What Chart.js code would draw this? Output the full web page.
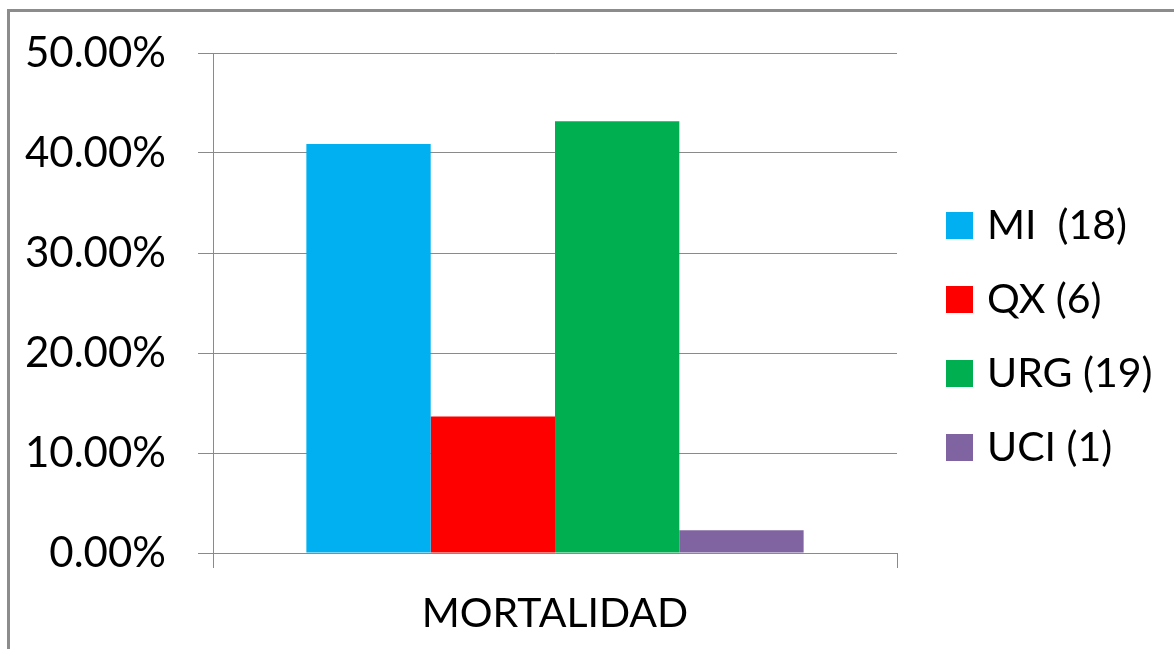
<!DOCTYPE html>
<html>
<head>
    <title>Mortalidad</title>
    <script src="https://cdn.jsdelivr.net/npm/chart.js"></script>
    <style>
        body { margin: 0; background: #fff; overflow: hidden; }
        #frame {
            position: absolute; left: 7px; top: 9px; width: 1300px; height: 800px;
            border-top: 3px solid #8c8c8c; border-left: 3px solid #8c8c8c;
        }
        #box { position: absolute; left: 0; top: 0; width: 1174px; height: 649px; }
    </style>
</head>
<body>
    <div id="frame"></div>
    <div id="box"><canvas id="plot"></canvas></div>

    <script>
        // Mortality share by service (count in the label)
        const categories = ['MORTALIDAD'];
        const seriesNames = ['MI  (18)', 'QX (6)', 'URG (19)', 'UCI (1)'];
        const seriesValues = [40.91, 13.64, 43.18, 2.27];
        const seriesColors = ['#00B0F0', '#FF0000', '#00B050', '#8064A2'];
        const yTicks = [0, 10, 20, 30, 40, 50];

        const gridColor = '#8a8a8a';
        const fontFamily = 'Lato, "Noto Sans", sans-serif';

        // Legend drawn to the right of the plot, one square per series
        const sideLegend = {
            id: 'sideLegend',
            afterDraw(chart) {
                const ctx = chart.ctx;
                ctx.save();
                ctx.font = '41px ' + fontFamily;
                ctx.textBaseline = 'middle';
                ctx.textAlign = 'left';
                chart.data.datasets.forEach((ds, i) => {
                    const cy = 225 + i * 74;
                    ctx.fillStyle = ds.backgroundColor;
                    ctx.fillRect(946, cy - 13, 27, 27);
                    ctx.fillStyle = '#000';
                    ctx.fillText(ds.label, 987, cy + 1);
                });
                ctx.restore();
            }
        };

        const ctx = document.getElementById('plot').getContext('2d');
        const chart = new Chart(ctx, {
            type: 'bar',
            data: {
                labels: categories,
                datasets: seriesNames.map((name, i) => ({
                    label: name,
                    data: [seriesValues[i]],
                    backgroundColor: seriesColors[i],
                    borderWidth: 0,
                    categoryPercentage: 0.727,
                    barPercentage: 1
                }))
            },
            options: {
                responsive: true,
                maintainAspectRatio: false,
                animation: false,
                layout: { padding: { top: 53, right: 277, left: 0, bottom: 0 } },
                plugins: {
                    legend: { display: false },
                    tooltip: { enabled: false }
                },
                scales: {
                    x: {
                        grid: {
                            drawOnChartArea: false,
                            drawTicks: true,
                            tickLength: 15,
                            color: gridColor
                        },
                        border: { display: true, color: gridColor },
                        ticks: {
                            color: '#000',
                            padding: 21,
                            font: { family: fontFamily, size: 41 }
                        },
                        afterFit(scale) { scale.height = 96; }
                    },
                    y: {
                        min: 0,
                        max: 50,
                        afterBuildTicks(scale) { scale.ticks = yTicks.map(v => ({ value: v })); },
                        grid: {
                            drawTicks: true,
                            tickLength: 15,
                            color: gridColor
                        },
                        border: { display: true, color: gridColor },
                        ticks: {
                            color: '#000',
                            padding: 32,
                            font: { family: fontFamily, size: 42 },
                            callback: v => v.toFixed(2) + '%'
                        },
                        afterFit(scale) {
                            scale.width = 213;
                            scale.paddingTop = 0;
                            scale.paddingBottom = 0;
                        }
                    }
                }
            },
            plugins: [sideLegend]
        });
    </script>
</body>
</html>
